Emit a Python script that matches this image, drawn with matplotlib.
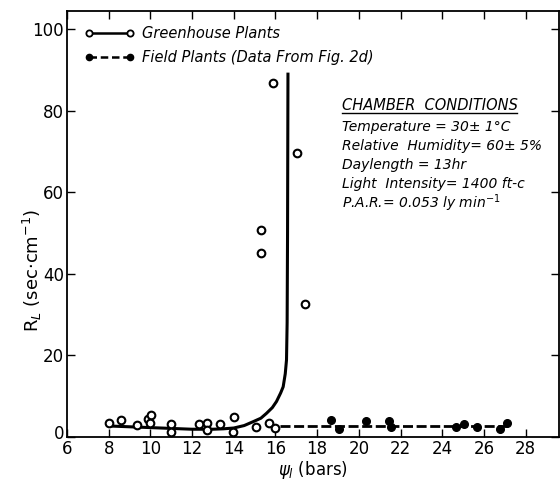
"""Leaf resistance vs. leaf water potential: greenhouse vs. field plants."""
import matplotlib
matplotlib.use("Agg")
import matplotlib.pyplot as plt
from matplotlib.lines import Line2D
from matplotlib.transforms import ScaledTranslation

# --- data ---
# greenhouse plants (open circles)
gh_psi = [8.0, 8.6, 9.35, 9.9, 10.05, 10.0, 11.0, 11.0, 12.35, 12.7, 12.7,
          13.35, 14.0, 13.95, 15.05, 15.7, 16.0, 17.4, 15.9, 17.05, 15.3, 15.3]
gh_rl = [3.4, 4.2, 3.0, 4.4, 5.5, 3.5, 3.1, 1.2, 3.1, 3.5, 1.8,
         3.3, 4.8, 1.2, 2.5, 3.4, 2.3, 32.6, 86.8, 69.6, 50.8, 45.0]
# greenhouse fitted curve (solid)
gh_fit_psi = [8.0, 9.0, 10.0, 11.0, 12.0, 13.0, 13.5, 14.0, 14.5, 14.93, 15.3,
              15.57, 15.85, 16.05, 16.25, 16.37, 16.47, 16.53, 16.56, 16.58, 16.6]
gh_fit_rl = [2.7, 2.5, 2.3, 2.1, 1.9, 1.9, 2.0, 2.2, 2.8, 3.75, 4.6,
             5.8, 7.2, 8.7, 10.8, 12.3, 15.5, 18.9, 28.0, 50.0, 89.3]

# field plants (filled circles, data from Fig. 2d)
fd_psi = [18.66, 19.04, 20.33, 21.44, 21.52, 24.68, 25.05, 25.69, 26.77, 27.09]
fd_rl = [4.2, 2.0, 3.8, 3.9, 2.5, 2.5, 3.2, 2.4, 1.9, 3.4]
# field plants mean line (dashed)
fd_fit_psi = [16.2, 27.3]
fd_fit_rl = [2.8, 2.8]

x_ticks = list(range(6, 29, 2))
y_ticks = [0, 20, 40, 60, 80, 100]

conditions_title = "CHAMBER  CONDITIONS"
conditions = [
    "Temperature = 30\u00b1 1\u00b0C",
    "Relative  Humidity= 60\u00b1 5%",
    "Daylength = 13hr",
    "Light  Intensity= 1400 ft-c",
    "P.A.R.= 0.053 ly min$^{-1}$",
]

plt.rcParams["font.family"] = "DejaVu Sans"
plt.rcParams["mathtext.fontset"] = "dejavusans"

fig = plt.figure(figsize=(5.6, 4.87), dpi=100)
ax = fig.add_axes([0.1196, 0.1027, 0.8786, 0.8747])

ax.plot(gh_fit_psi, gh_fit_rl, color="black", lw=2.2, solid_capstyle="butt")
ax.plot(fd_fit_psi, fd_fit_rl, color="black", lw=2.0, ls=(0, (3.6, 1.3)))
ax.plot(gh_psi, gh_rl, "o", ms=5.5, mfc="white", mec="black", mew=1.5,
        clip_on=False)
ax.plot(fd_psi, fd_rl, "o", ms=5.5, mfc="black", mec="black", clip_on=False)

ax.set_xlim(6, 29.6)
ax.set_ylim(0, 104.4)
ax.set_xticks(x_ticks)
ax.set_yticks(y_ticks)
ax.tick_params(direction="in", length=6, width=1.0, top=True, right=True,
               labelsize=12, pad=2)
for s in ax.spines.values():
    s.set_linewidth(1.3)
# the "0" sits a little above the "6" in the corner, as in the original
zero = ax.get_yticklabels()[0]
zero.set_transform(zero.get_transform()
                   + ScaledTranslation(0, 3.5 / 72, fig.dpi_scale_trans))

ax.set_xlabel(r"$\psi_l$ (bars)", fontsize=12, labelpad=1)
ax.set_ylabel(r"R$_L$ (sec$\cdot$cm$^{-1}$)", fontsize=13)
ax.yaxis.set_label_coords(-0.047, 0.39)

handles = [
    Line2D([], [], color="black", lw=1.8, marker="o", ms=4.5, mfc="white",
           mec="black", mew=1.3),
    Line2D([], [], color="black", lw=1.8, ls=(0, (3, 1.5)), marker="o", ms=4.5,
           mfc="black", mec="black"),
]
ax.legend(handles, ["Greenhouse Plants", "Field Plants (Data From Fig. 2d)"],
          loc="upper left", bbox_to_anchor=(0.01, 0.995), numpoints=2,
          frameon=False, handlelength=3.4, handletextpad=0.5,
          labelspacing=0.6, prop={"size": 10.5, "style": "italic"})

x0 = 0.559
ax.text(x0, 0.779, conditions_title, transform=ax.transAxes, fontsize=10.5,
        style="italic", va="center", ha="left")
ax.add_line(Line2D([x0, 0.914], [0.761, 0.761], transform=ax.transAxes,
                   color="black", lw=1.0))
for i, line in enumerate(conditions):
    ax.text(x0, 0.728 - i * 0.0448, line, transform=ax.transAxes,
            fontsize=10, style="italic", va="center", ha="left")

fig.savefig("out.png", dpi=100)
